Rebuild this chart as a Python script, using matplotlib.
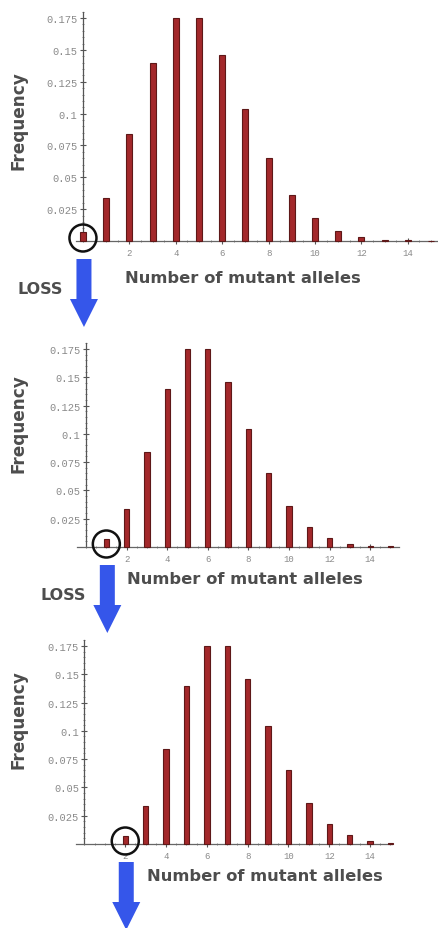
import numpy as np
import matplotlib.pyplot as plt
from matplotlib.patches import FancyArrow, Circle
from matplotlib.ticker import MultipleLocator, FixedLocator

# frequency of each allele count (counts start at the panel's shift)
freq = [0.007, 0.034, 0.084, 0.140, 0.175, 0.175, 0.146, 0.104,
        0.065, 0.036, 0.018, 0.008, 0.003, 0.001, 0.0005, 0.0002]
shifts = [0, 1, 2]
yticks = [0.025, 0.05, 0.075, 0.1, 0.125, 0.15, 0.175]
ytick_labels = ["0.025", "0.05", "0.075", "0.1", "0.125", "0.15", "0.175"]
xticks = [2, 4, 6, 8, 10, 12, 14]

W, H = 438, 929
# axes boxes in pixels: left, top, right, bottom, xlim
boxes = [
    (76.0, 12.7, 438.0, 242.0, (-0.3, 15.3)),
    (76.9, 344.3, 398.6, 548.0, (-0.45, 15.4)),
    (76.3, 641.3, 392.5, 845.0, (-0.4, 15.1)),
]

bar_c = "#a3282b"
edge_c = "#5e1818"
blue = "#3556ea"
grey_txt = "#4d4d4d"

fig = plt.figure(figsize=(W / 100, H / 100), dpi=100)
axes = []
for (l, t, r, b, xl), s in zip(boxes, shifts):
    ax = fig.add_axes([l / W, 1 - b / H, (r - l) / W, (b - t) / H])
    x = np.arange(len(freq)) + s
    keep = x <= xl[1]
    ax.bar(x[keep], np.array(freq)[keep], width=0.26, color=bar_c,
           edgecolor=edge_c, linewidth=0.8, clip_on=False, zorder=3)
    ax.set_xlim(*xl)
    ax.set_ylim(0, 0.18)
    for side in ["top", "right"]:
        ax.spines[side].set_visible(False)
    ax.spines["left"].set_position(("data", 0))
    ax.spines["left"].set_color("#555555")
    ax.spines["bottom"].set_color("#666666")
    ax.spines["left"].set_linewidth(0.9)
    ax.spines["bottom"].set_linewidth(0.9)
    ax.yaxis.set_major_locator(FixedLocator(yticks))
    ax.set_yticklabels(ytick_labels)
    ax.yaxis.set_minor_locator(MultipleLocator(0.005))
    ax.xaxis.set_major_locator(FixedLocator(xticks))
    ax.xaxis.set_minor_locator(MultipleLocator(0.5))
    ax.tick_params(axis="both", which="major", direction="inout", length=4,
                   width=0.8, color="#555555", labelcolor="#8a8a8a")
    ax.tick_params(axis="both", which="minor", direction="inout", length=2,
                   width=0.6, color="#777777")
    ax.tick_params(axis="y", pad=2)
    ax.tick_params(axis="x", pad=3)
    for lab in ax.get_yticklabels() + ax.get_xticklabels():
        lab.set_family("Liberation Mono")
    for lab in ax.get_yticklabels():
        lab.set_fontsize(7.5)
    for lab in ax.get_xticklabels():
        lab.set_fontsize(6.5)
    ax.patch.set_alpha(0)
    axes.append(ax)

# overlay in pixel coordinates for circles, arrows and labels
ov = fig.add_axes([0, 0, 1, 1], zorder=10)
ov.set_xlim(0, W)
ov.set_ylim(H, 0)
ov.axis("off")
ov.patch.set_alpha(0)

fig.canvas.draw()
inv = ov.transData.inverted()
xlabel_x = [125, 127, 147]
xlabel_y = [278, 580, 877]
freq_y = [121, 424, 720]
for i, (ax, s) in enumerate(zip(axes, shifts)):
    cx, cy = inv.transform(ax.transData.transform((s, 0)))
    ov.add_patch(Circle((cx, cy - 3), 13.5, fill=False, lw=1.8,
                        edgecolor="#111111"))
    ov.add_patch(FancyArrow(cx + 1, cy + 18, 0, 68, width=15,
                            head_width=28, head_length=28,
                            length_includes_head=True, color=blue, lw=0))
    ov.text(xlabel_x[i], xlabel_y[i], "Number of mutant alleles",
            fontsize=11.8, fontweight="bold", color=grey_txt,
            ha="left", va="center")
    ov.text(19, freq_y[i], "Frequency", fontsize=12.2, fontweight="bold",
            color=grey_txt, rotation=90, ha="center", va="center")
    if i < 2:
        ov.text(cx - 43, cy + 47, "LOSS", fontsize=11.5, fontweight="bold",
                color=grey_txt, ha="center", va="center")

fig.savefig("out.png", dpi=100, facecolor="white")
